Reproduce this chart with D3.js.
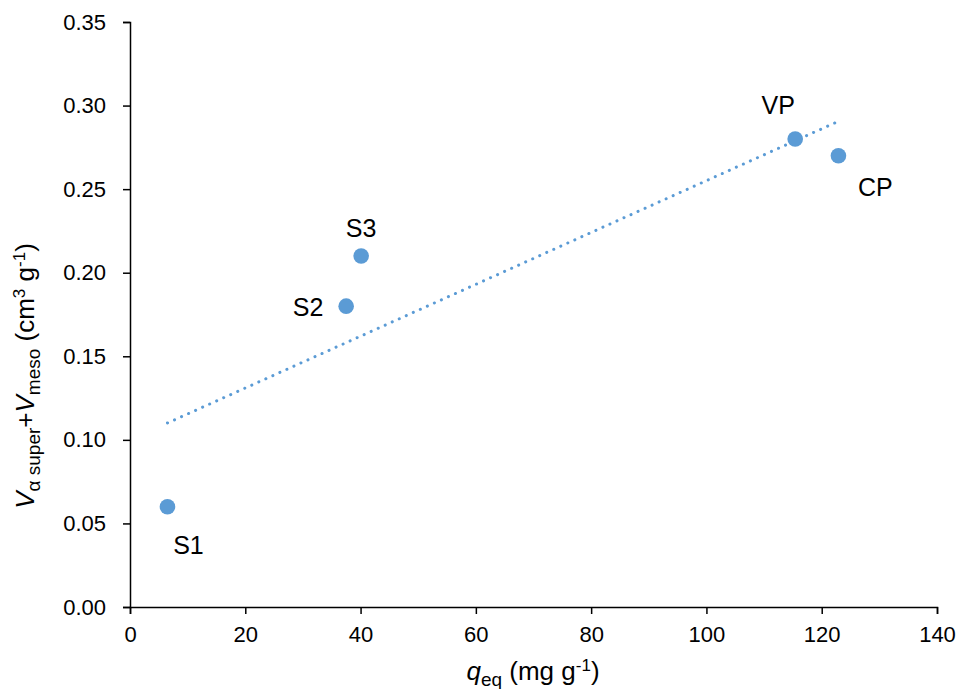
<!DOCTYPE html>
<html><head><meta charset="utf-8">
<script src="https://cdn.jsdelivr.net/npm/d3@7"></script>
<style>body{margin:0;background:#fff;}text{font-family:"Liberation Sans",Arial,sans-serif;fill:#000;}</style>
</head><body>
<svg id="c" width="961" height="689"></svg>
<script>
const names = ["S1","S2","S3","VP","CP"];
const qeq = [6.5, 37.5, 40.1, 115.4, 122.9];
const vol = [0.06, 0.18, 0.21, 0.28, 0.27];
const xTicks = [0,20,40,60,80,100,120,140];
const yTicks = [0,0.05,0.10,0.15,0.20,0.25,0.30,0.35];
// label offsets (dx, dy) relative to point, in px
const labelOffsets = {S1:[21,38], S2:[-38,1], S3:[0,-28], VP:[-17,-34], CP:[37,31]};

const svg = d3.select("#c");
const x = d3.scaleLinear().domain([0,140]).range([130,937]);
const y = d3.scaleLinear().domain([0,0.35]).range([607,22]);
const col = "#5B9BD5";

const xa = svg.append("g").attr("transform","translate(0,607)")
  .call(d3.axisBottom(x).tickValues(xTicks).tickSize(7).tickPadding(6).tickFormat(d3.format("d")));
const ya = svg.append("g").attr("transform","translate(130,0)")
  .call(d3.axisLeft(y).tickValues(yTicks).tickSize(7).tickPadding(6).tickFormat(d3.format(".2f")));
[xa,ya].forEach(a=>{
  a.select(".domain").attr("stroke","#000").attr("stroke-width",1.5);
  a.selectAll(".tick line").attr("stroke","#000").attr("stroke-width",1.5);
  a.selectAll(".tick text").style("font-size","22px").style("font-family","'Liberation Sans',Arial,sans-serif").attr("fill","#000");
});
ya.selectAll(".tick text").attr("x",-24);
xa.selectAll(".tick text").attr("y",0).attr("dy",0).attr("transform","translate(0,35)");

// linear trendline (least squares of the data)
const n = qeq.length, mx = d3.mean(qeq), my = d3.mean(vol);
let sxy=0, sxx=0;
for(let i=0;i<n;i++){sxy+=(qeq[i]-mx)*(vol[i]-my); sxx+=(qeq[i]-mx)**2;}
const b = sxy/sxx, a0 = my - b*mx;
const x0 = d3.min(qeq), x1 = d3.max(qeq);
svg.append("line")
  .attr("x1",x(x0)).attr("y1",y(a0+b*x0)).attr("x2",x(x1)).attr("y2",y(a0+b*x1))
  .attr("stroke",col).attr("stroke-width",3).attr("stroke-linecap","round")
  .attr("stroke-dasharray","0.1,7.6");

svg.selectAll("circle.pt").data(d3.range(n)).join("circle")
  .attr("class","pt").attr("cx",i=>x(qeq[i])).attr("cy",i=>y(vol[i])).attr("r",7.8).attr("fill",col);

svg.selectAll("text.lbl").data(d3.range(n)).join("text")
  .attr("class","lbl")
  .attr("x",i=>x(qeq[i])+labelOffsets[names[i]][0])
  .attr("y",i=>y(vol[i])+labelOffsets[names[i]][1])
  .attr("text-anchor","middle").attr("dominant-baseline","central")
  .style("font-size","25px").text(i=>names[i]);

// x axis title
const xt = svg.append("text").attr("x",533).attr("y",680).attr("text-anchor","middle").style("font-size","26px");
xt.append("tspan").style("font-style","italic").text("q");
xt.append("tspan").attr("dy",6).style("font-size","19px").text("eq");
xt.append("tspan").attr("dy",-6).text(" (mg g");
xt.append("tspan").attr("dy",-9).style("font-size","17px").text("-1");
xt.append("tspan").attr("dy",9).text(")");

// y axis title
const yt = svg.append("text").attr("transform","translate(34,376) rotate(-90)").attr("text-anchor","middle").style("font-size","26px");
yt.append("tspan").style("font-style","italic").text("V");
yt.append("tspan").attr("dy",6).style("font-size","19px").text("α super");
yt.append("tspan").attr("dy",-6).text("+");
yt.append("tspan").style("font-style","italic").text("V");
yt.append("tspan").attr("dy",6).style("font-size","19px").text("meso");
yt.append("tspan").attr("dy",-6).text(" (cm");
yt.append("tspan").attr("dy",-9).style("font-size","17px").text("3");
yt.append("tspan").attr("dy",9).text(" g");
yt.append("tspan").attr("dy",-9).style("font-size","17px").text("-1");
yt.append("tspan").attr("dy",9).text(")");
</script>
</body></html>
